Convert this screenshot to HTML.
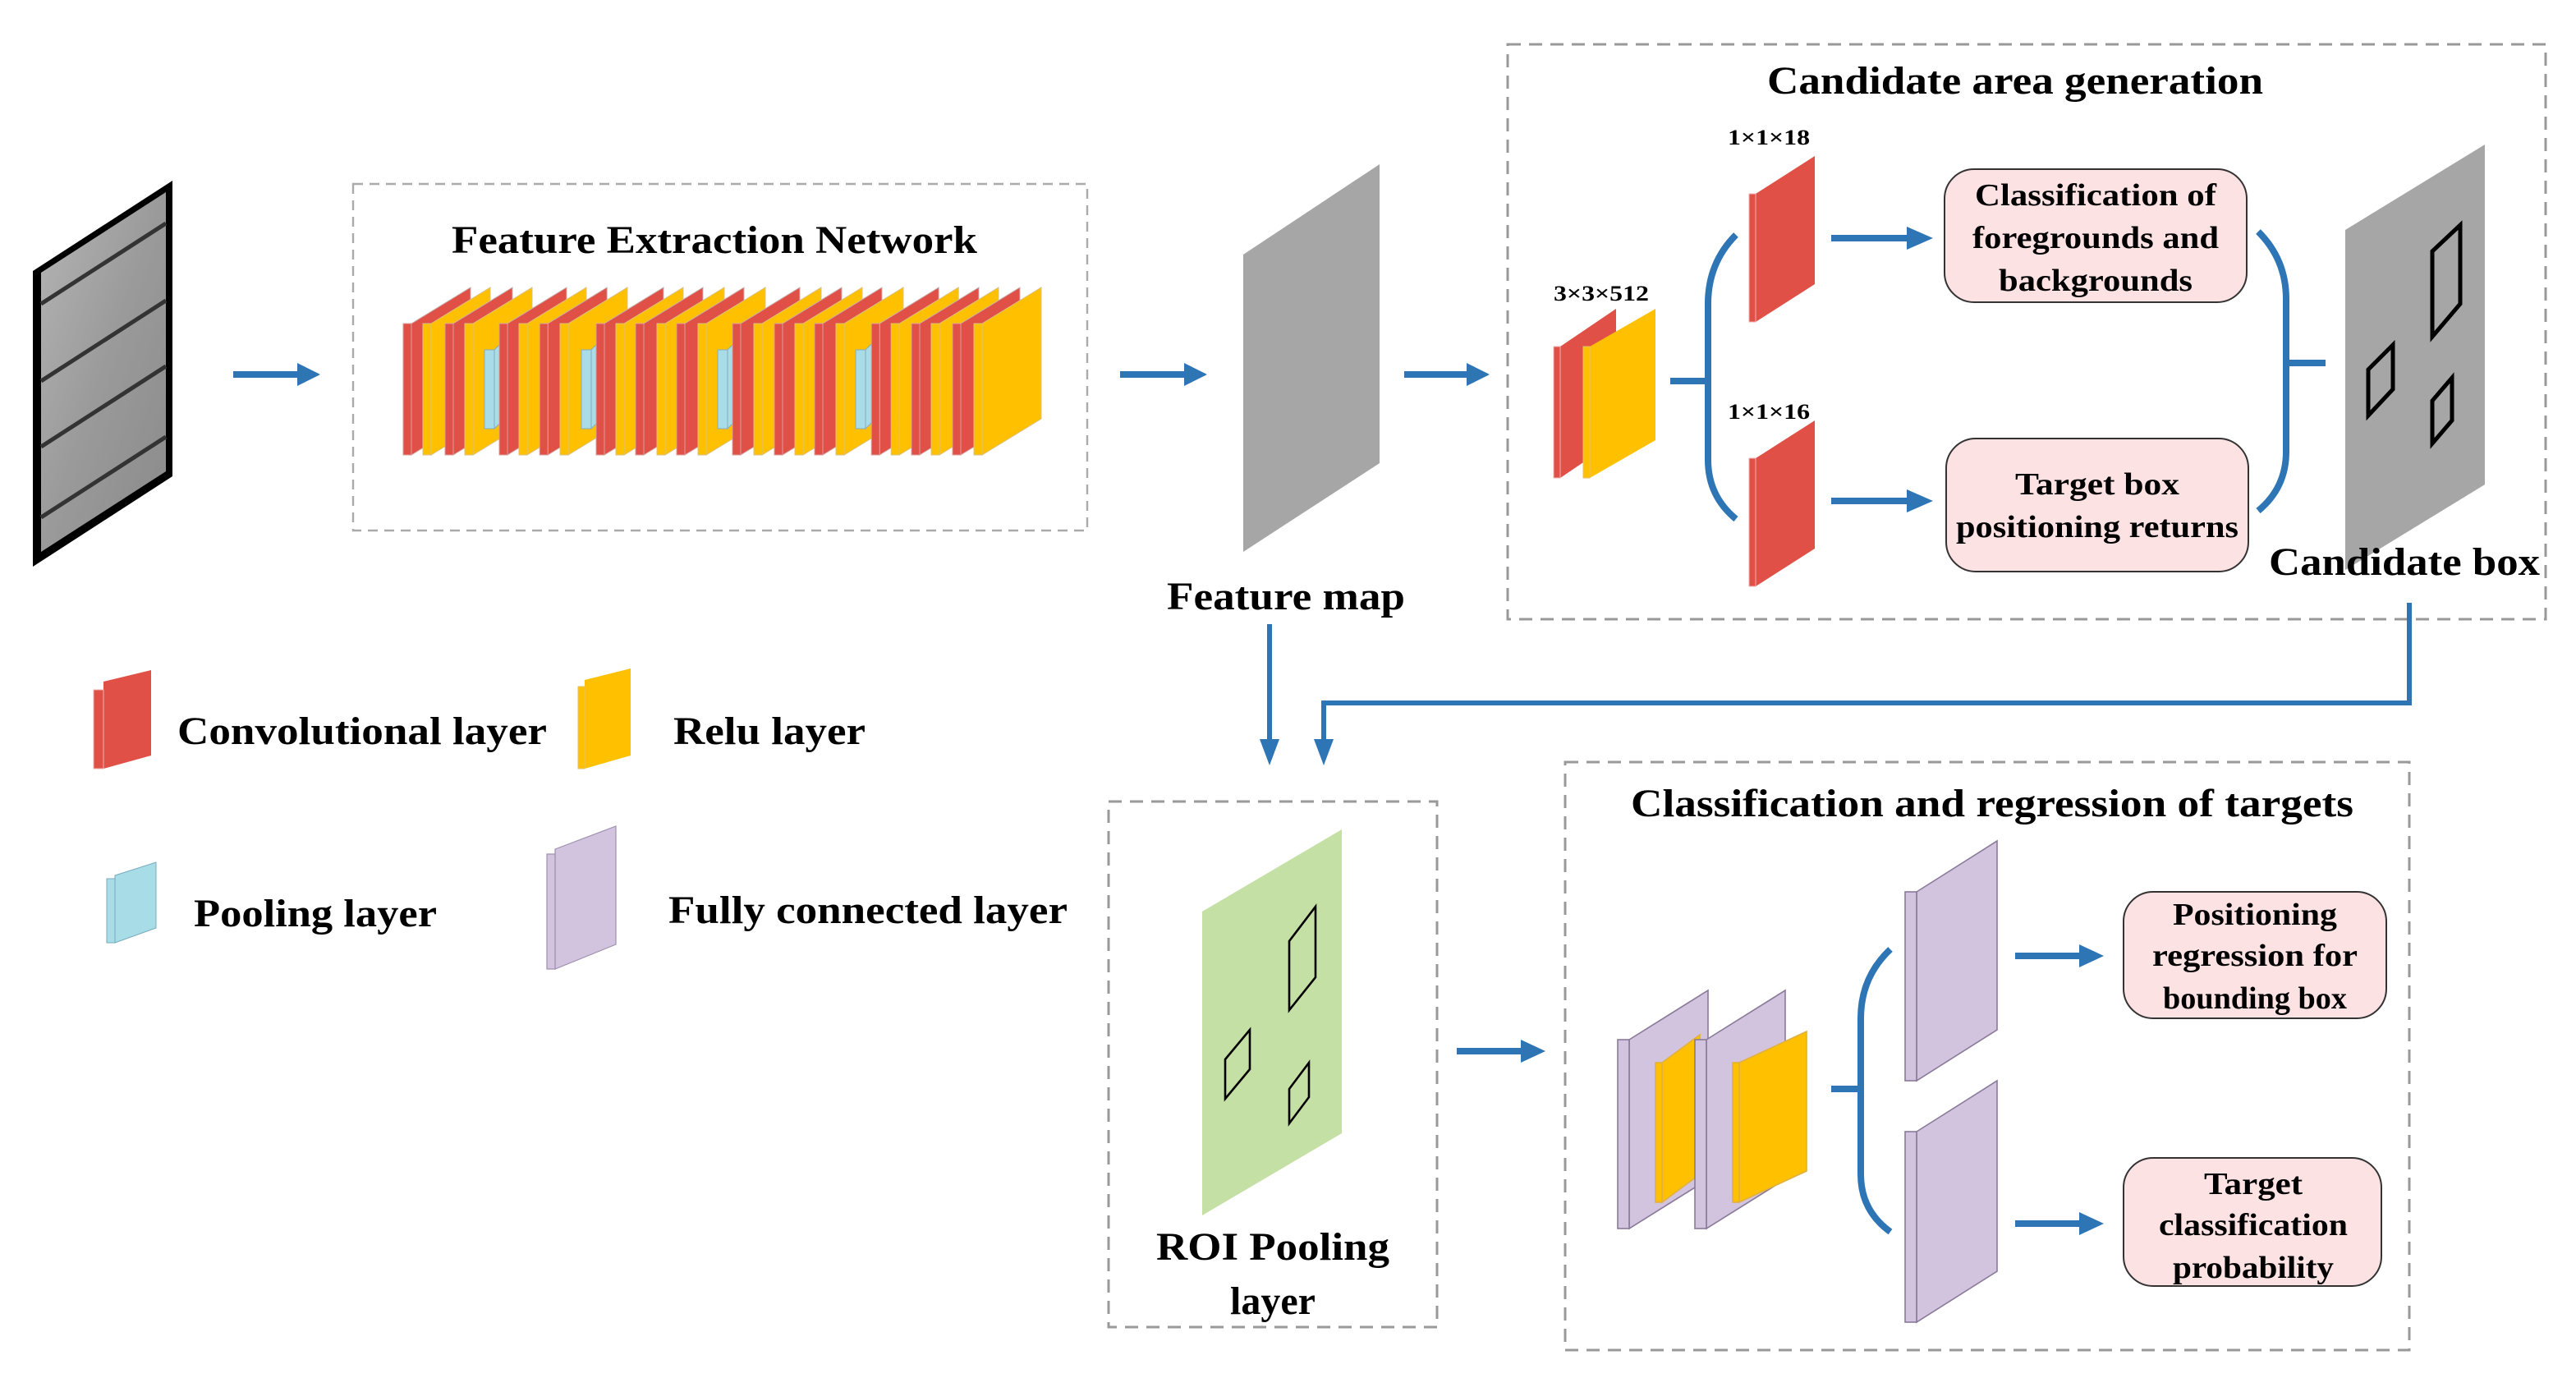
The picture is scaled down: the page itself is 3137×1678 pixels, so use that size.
<!DOCTYPE html>
<html><head><meta charset="utf-8"><style>
html,body{margin:0;padding:0;background:#fff;}
svg{display:block;}
text{font-family:"Liberation Serif",serif;font-weight:bold;fill:#000;}
</style></head><body>
<svg width="3137" height="1678" viewBox="0 0 1568.5 839" preserveAspectRatio="none" xmlns="http://www.w3.org/2000/svg">
<defs>
<g id="rs"><polygon points="5,0 41,-22 41,58 5,80" fill="#e05046" stroke="#c9b0b0" stroke-width="0.5"/><rect x="0" y="0" width="5" height="80" fill="#e05046" stroke="#d9a0a0" stroke-width="0.5"/></g>
<g id="ys"><polygon points="5,0 41,-22 41,58 5,80" fill="#ffc000" stroke="#d8c080" stroke-width="0.5"/><rect x="0" y="0" width="5" height="80" fill="#ffc000" stroke="#d8c080" stroke-width="0.5"/></g>
<g id="ps"><polygon points="6,0 12,-6 12,42 6,48" fill="#a8dde8" stroke="#8ab" stroke-width="0.5"/><rect x="0" y="0" width="6" height="48" fill="#a8dde8" stroke="#8ab" stroke-width="0.5"/></g>
<linearGradient id="tex" x1="0" y1="0" x2="1" y2="1"><stop offset="0" stop-color="#b5b5b5"/><stop offset="0.5" stop-color="#9a9a9a"/><stop offset="1" stop-color="#8a8a8a"/></linearGradient>
</defs>

<!-- input image -->
<polygon points="20,165 105,110 105,290 20,345" fill="#000"/>
<polygon points="25,166 101,117 101,287 25,336" fill="url(#tex)"/>
<g stroke="#333" stroke-width="2.5">
<line x1="25" y1="185" x2="101" y2="136"/>
<line x1="25" y1="232" x2="101" y2="183"/>
<line x1="25" y1="272" x2="101" y2="223"/>
<line x1="25" y1="315" x2="101" y2="266"/>
</g>

<!-- arrows top -->
<g fill="#2e75b6" stroke="#2e75b6">
<line x1="142" y1="228" x2="183" y2="228" stroke-width="4"/><polygon points="181,221 195,228 181,235" stroke="none"/>
<line x1="682" y1="228" x2="723" y2="228" stroke-width="4"/><polygon points="721,221 735,228 721,235" stroke="none"/>
<line x1="855" y1="228" x2="895" y2="228" stroke-width="4"/><polygon points="893,221 907,228 893,235" stroke="none"/>
</g>

<!-- feature extraction box -->
<rect x="215" y="112" width="447" height="211" fill="none" stroke="#aaa" stroke-width="1.2" stroke-dasharray="6,4"/>
<text x="435" y="154" font-size="24" text-anchor="middle" textLength="320" lengthAdjust="spacingAndGlyphs">Feature Extraction Network</text>
<g transform="translate(0,197)">
<use href="#rs" x="245.5"/><use href="#ys" x="257.5"/><use href="#rs" x="271"/><use href="#ys" x="283"/>
<use href="#ps" x="295" y="16"/>
<use href="#rs" x="304"/><use href="#ys" x="316"/><use href="#rs" x="328.6"/><use href="#ys" x="341"/>
<use href="#ps" x="354" y="16"/>
<use href="#rs" x="363"/><use href="#ys" x="375"/><use href="#rs" x="387"/><use href="#ys" x="400"/><use href="#rs" x="412"/><use href="#ys" x="425"/>
<use href="#ps" x="437" y="16"/>
<use href="#rs" x="446"/><use href="#ys" x="459"/><use href="#rs" x="471.5"/><use href="#ys" x="484"/><use href="#rs" x="496"/><use href="#ys" x="509"/>
<use href="#ps" x="521" y="16"/>
<use href="#rs" x="530.6"/><use href="#ys" x="542.6"/><use href="#rs" x="555"/><use href="#ys" x="567"/><use href="#rs" x="580"/><use href="#ys" x="593"/>
</g>

<!-- feature map -->
<polygon points="757,155 840,100 840,282 757,336" fill="#a6a6a6"/>
<text x="783" y="371" font-size="24" text-anchor="middle" textLength="145" lengthAdjust="spacingAndGlyphs">Feature map</text>

<!-- candidate area generation -->
<rect x="918" y="27" width="632" height="350" fill="none" stroke="#999" stroke-width="1.5" stroke-dasharray="8,5"/>
<text x="1227" y="57" font-size="24" text-anchor="middle" textLength="302" lengthAdjust="spacingAndGlyphs">Candidate area generation</text>
<text x="975" y="183" font-size="13" text-anchor="middle" textLength="58" lengthAdjust="spacingAndGlyphs">3×3×512</text>
<polygon points="950,211 984,188 984,268 950,291" fill="#e05046"/><rect x="946" y="211" width="4" height="80" fill="#e05046" stroke="#f0b0b0" stroke-width="0.5"/>
<polygon points="968,211 1008,188 1008,268 968,291" fill="#ffc000"/><rect x="964" y="211" width="4" height="80" fill="#ffc000" stroke="#e0c070" stroke-width="0.5"/>
<text x="1077" y="88" font-size="13" text-anchor="middle" textLength="50" lengthAdjust="spacingAndGlyphs">1×1×18</text>
<text x="1077" y="255" font-size="13" text-anchor="middle" textLength="50" lengthAdjust="spacingAndGlyphs">1×1×16</text>
<polygon points="1069,118 1105,95 1105,173 1069,196" fill="#e05046"/><rect x="1065" y="118" width="4" height="78" fill="#e05046" stroke="#f0b0b0" stroke-width="0.5"/>
<polygon points="1069,279 1105,256 1105,334 1069,357" fill="#e05046"/><rect x="1065" y="279" width="4" height="78" fill="#e05046" stroke="#f0b0b0" stroke-width="0.5"/>
<g fill="none" stroke="#2e75b6" stroke-width="4">
<line x1="1017" y1="232" x2="1040" y2="232"/>
<path d="M1057,143 Q1040,160 1040,185 L1040,280 Q1040,302 1057,316"/>
<path d="M1375,141 Q1392,158 1392,182 L1392,275 Q1392,297 1375,311"/>
<line x1="1392" y1="221" x2="1416" y2="221"/>
</g>
<g fill="#2e75b6" stroke="#2e75b6">
<line x1="1115" y1="145" x2="1163" y2="145" stroke-width="4"/><polygon points="1161,138 1177,145 1161,152" stroke="none"/>
<line x1="1115" y1="305" x2="1163" y2="305" stroke-width="4"/><polygon points="1161,298 1177,305 1161,312" stroke="none"/>
</g>
<rect x="1184" y="103" width="184" height="81" rx="18" fill="#fde2e4" stroke="#333" stroke-width="1"/>
<text font-size="19" text-anchor="middle"><tspan x="1276" y="125" textLength="147" lengthAdjust="spacingAndGlyphs">Classification of</tspan><tspan x="1276" y="151" textLength="150" lengthAdjust="spacingAndGlyphs">foregrounds and</tspan><tspan x="1276" y="177" textLength="118" lengthAdjust="spacingAndGlyphs">backgrounds</tspan></text>
<rect x="1185" y="267" width="184" height="81" rx="18" fill="#fde2e4" stroke="#333" stroke-width="1"/>
<text font-size="19" text-anchor="middle"><tspan x="1277" y="301" textLength="100" lengthAdjust="spacingAndGlyphs">Target box</tspan><tspan x="1277" y="327" textLength="172" lengthAdjust="spacingAndGlyphs">positioning returns</tspan></text>
<polygon points="1428,140 1513,88 1513,295 1428,347" fill="#a6a6a6"/>
<g fill="none" stroke="#000" stroke-width="2.5">
<polygon points="1481,153 1498,137 1498,185 1481,205"/>
<polygon points="1442,225 1457,210 1457,237 1442,253"/>
<polygon points="1481,244 1493,230 1493,256 1481,270"/>
</g>
<text x="1464" y="350" font-size="24" text-anchor="middle" textLength="165" lengthAdjust="spacingAndGlyphs">Candidate box</text>

<!-- connectors down -->
<g fill="none" stroke="#2e75b6" stroke-width="3">
<polyline points="1467,367 1467,428 806,428 806,452"/>
<line x1="773" y1="380" x2="773" y2="452"/>
</g>
<polygon points="767,450 773,466 779,450" fill="#2e75b6"/>
<polygon points="800,450 806,466 812,450" fill="#2e75b6"/>

<!-- legend -->
<polygon points="63,415 92,408 92,460 63,468" fill="#e05046"/><rect x="57" y="420" width="6" height="48" fill="#e05046" stroke="#f0b0b0" stroke-width="0.5"/>
<text x="108" y="453" font-size="24" textLength="225" lengthAdjust="spacingAndGlyphs">Convolutional layer</text>
<polygon points="356,414 384,407 384,460 356,468" fill="#ffc000"/><rect x="352" y="418" width="4" height="50" fill="#ffc000" stroke="#e0c070" stroke-width="0.5"/>
<text x="410" y="453" font-size="24" textLength="117" lengthAdjust="spacingAndGlyphs">Relu layer</text>
<polygon points="70,533 95,525 95,565 70,574" fill="#a8dde8" stroke="#7ab" stroke-width="0.5"/><rect x="65" y="535" width="5" height="39" fill="#a8dde8" stroke="#7ab" stroke-width="0.5"/>
<text x="118" y="564" font-size="24" textLength="148" lengthAdjust="spacingAndGlyphs">Pooling layer</text>
<polygon points="338,517 375,503 375,575 338,590" fill="#d2c4de" stroke="#a090b0" stroke-width="0.6"/><rect x="333" y="520" width="5" height="70" fill="#d2c4de" stroke="#a090b0" stroke-width="0.6"/>
<text x="407" y="562" font-size="24" textLength="243" lengthAdjust="spacingAndGlyphs">Fully connected layer</text>

<!-- ROI -->
<rect x="675" y="488" width="200" height="320" fill="none" stroke="#999" stroke-width="1.5" stroke-dasharray="8,5"/>
<polygon points="732,555 817,505 817,690 732,740" fill="#c5e0a5"/>
<g fill="none" stroke="#000" stroke-width="1.3">
<polygon points="785,573 801,552 801,595 785,615"/>
<polygon points="746,645 761,627 761,651 746,669"/>
<polygon points="785,663 797,647 797,668 785,684"/>
</g>
<text font-size="24" text-anchor="middle"><tspan x="775" y="767" textLength="142" lengthAdjust="spacingAndGlyphs">ROI Pooling</tspan><tspan x="775" y="800">layer</tspan></text>
<line x1="887" y1="640" x2="928" y2="640" stroke="#2e75b6" stroke-width="4"/><polygon points="926,633 941,640 926,647" fill="#2e75b6"/>

<!-- classification and regression -->
<rect x="953" y="464" width="514" height="358" fill="none" stroke="#999" stroke-width="1.5" stroke-dasharray="8,5"/>
<text x="1213" y="497" font-size="24" text-anchor="middle" textLength="440" lengthAdjust="spacingAndGlyphs">Classification and regression of targets</text>
<g stroke="#8a7a9a" stroke-width="0.8">
<polygon points="992,633 1040,603 1040,718 992,748" fill="#d2c4de"/><rect x="985" y="633" width="7" height="115" fill="#d2c4de"/>
<polygon points="1012,647 1035,630 1035,715 1012,732" fill="#ffc000" stroke="#e0b040"/><rect x="1008" y="647" width="4" height="85" fill="#ffc000" stroke="#e0b040"/>
<polygon points="1039,633 1087,603 1087,718 1039,748" fill="#d2c4de"/><rect x="1032" y="633" width="7" height="115" fill="#d2c4de"/>
<polygon points="1059,647 1100,628 1100,713 1059,732" fill="#ffc000" stroke="#e0b040"/><rect x="1055" y="647" width="4" height="85" fill="#ffc000" stroke="#e0b040"/>
<polygon points="1167,543 1216,512 1216,627 1167,658" fill="#d2c4de"/><rect x="1160" y="543" width="7" height="115" fill="#d2c4de"/>
<polygon points="1167,689 1216,658 1216,774 1167,805" fill="#d2c4de"/><rect x="1160" y="689" width="7" height="116" fill="#d2c4de"/>
</g>
<g fill="none" stroke="#2e75b6" stroke-width="4">
<line x1="1115" y1="663" x2="1133" y2="663"/>
<path d="M1151,578 Q1133,595 1133,620 L1133,715 Q1133,737 1151,750"/>
</g>
<g fill="#2e75b6" stroke="#2e75b6">
<line x1="1227" y1="582" x2="1268" y2="582" stroke-width="4"/><polygon points="1266,575 1281,582 1266,589" stroke="none"/>
<line x1="1227" y1="745" x2="1268" y2="745" stroke-width="4"/><polygon points="1266,738 1281,745 1266,752" stroke="none"/>
</g>
<rect x="1293" y="543" width="160" height="77" rx="18" fill="#fde2e4" stroke="#333" stroke-width="1"/>
<text font-size="19" text-anchor="middle"><tspan x="1373" y="563" textLength="100" lengthAdjust="spacingAndGlyphs">Positioning</tspan><tspan x="1373" y="588" textLength="125" lengthAdjust="spacingAndGlyphs">regression for</tspan><tspan x="1373" y="614" textLength="112" lengthAdjust="spacingAndGlyphs">bounding box</tspan></text>
<rect x="1293" y="705" width="157" height="78" rx="18" fill="#fde2e4" stroke="#333" stroke-width="1"/>
<text font-size="19" text-anchor="middle"><tspan x="1372" y="727" textLength="60" lengthAdjust="spacingAndGlyphs">Target</tspan><tspan x="1372" y="752" textLength="115" lengthAdjust="spacingAndGlyphs">classification</tspan><tspan x="1372" y="778" textLength="98" lengthAdjust="spacingAndGlyphs">probability</tspan></text>
</svg>
</body></html>
